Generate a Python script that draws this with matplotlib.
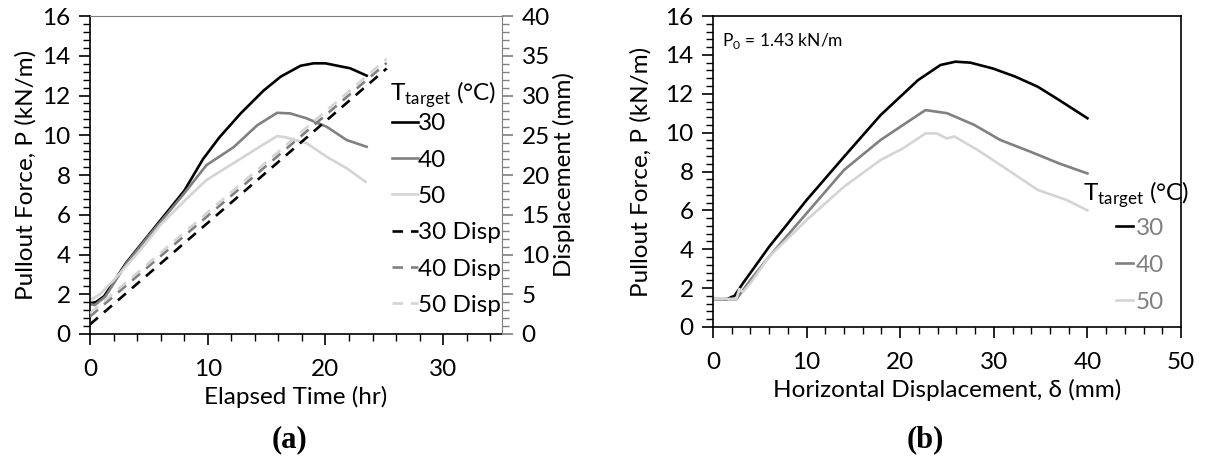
import matplotlib
matplotlib.use('Agg')
import matplotlib.pyplot as plt
from matplotlib.ticker import MultipleLocator

# --- data ---
# (a) pullout force vs elapsed time
t30 = [0, 0.5, 1.2, 3.1, 5.0, 6.5, 8.0, 9.6, 11.0, 12.8, 14.75, 16.2, 17.9, 19.0, 20.0, 21.0, 22.1, 23.5]
f30 = [1.55, 1.6, 1.9, 3.6, 5.0, 6.1, 7.2, 8.8, 9.9, 11.1, 12.25, 12.95, 13.5, 13.62, 13.62, 13.5, 13.37, 13.0]
t40 = [0, 0.4, 1.3, 3.1, 5.0, 6.5, 7.9, 9.9, 12.2, 14.2, 15.9, 17.0, 18.4, 20.1, 21.8, 23.5]
f40 = [1.5, 1.45, 1.88, 3.55, 4.95, 6.0, 7.0, 8.5, 9.4, 10.5, 11.13, 11.1, 10.85, 10.43, 9.76, 9.42]
t50 = [0, 0.85, 2.0, 4.25, 6.0, 8.2, 9.9, 12.2, 14.2, 15.9, 16.6, 18.4, 20.1, 21.8, 23.4]
f50 = [1.7, 2.0, 2.7, 4.2, 5.5, 6.8, 7.75, 8.6, 9.34, 9.96, 9.9, 9.6, 8.92, 8.34, 7.66]

# displacement (mm) vs time, straight ramps
td = [0, 25.2]
d30 = [1.2, 33.4]
d40 = [2.2, 34.1]
d50 = [2.6, 34.6]

# (b) pullout force vs horizontal displacement
x30 = [0, 1.5, 2.0, 2.3, 3.2, 6, 10, 14, 17.9, 21.9, 24.3, 25.9, 27.5, 29.9, 32.3, 34.7, 37, 40]
p30 = [1.43, 1.43, 1.55, 1.6, 2.25, 4.13, 6.53, 8.76, 10.9, 12.7, 13.48, 13.65, 13.6, 13.3, 12.88, 12.36, 11.67, 10.74]
x40 = [0, 2.5, 4, 6, 10, 14, 17.9, 21.1, 22.7, 25, 27.9, 30.7, 33.9, 37, 40]
p40 = [1.43, 1.43, 2.42, 3.62, 5.85, 8.08, 9.62, 10.65, 11.16, 11.0, 10.4, 9.62, 9.02, 8.41, 7.9]
x50 = [0, 2.5, 2.8, 3.2, 4, 6, 10, 14, 17.9, 20.3, 22.7, 23.9, 25, 25.8, 28.3, 31.5, 34.7, 37.8, 40]
p50 = [1.43, 1.45, 1.95, 1.8, 2.25, 3.62, 5.5, 7.22, 8.59, 9.19, 9.96, 9.96, 9.7, 9.8, 9.1, 8.08, 7.05, 6.53, 6.0]

temps = ['30', '40', '50']
colors = ['#000000', '#808080', '#d4d4d4']

plt.rcParams['font.family'] = ['Lato', 'DejaVu Serif']
plt.rcParams['mathtext.fontset'] = 'custom'
plt.rcParams['mathtext.rm'] = 'Lato'
FS = 17.5
LW = 1.9
TITLE = 'T$_{\\mathregular{target}}$ (°C)'


def style_ticks(ax, color='black'):
    '''outward ticks, long majors and short minors'''
    ax.tick_params(which='major', direction='out', length=8, width=1.2,
                   labelsize=FS, color=color, pad=6)
    ax.tick_params(which='minor', direction='out', length=5, width=1.0, color=color)
    ax.tick_params(axis='x', which='major', pad=10)


fig = plt.figure(figsize=(12.06, 4.67), dpi=100)

# ---------- (a) ----------
ax1 = fig.add_axes([0.0746, 0.2848, 0.3417, 0.6809])
for t, f, c, lab in zip([t30, t40, t50], [f30, f40, f50], colors, temps):
    ax1.plot(t, f, color=c, lw=LW, label=lab)
ax1.set_xlim(0, 35)
ax1.set_ylim(0, 16)
ax1.xaxis.set_major_locator(MultipleLocator(10))
ax1.xaxis.set_minor_locator(MultipleLocator(2))
ax1.yaxis.set_major_locator(MultipleLocator(2))
ax1.yaxis.set_minor_locator(MultipleLocator(0.4))
style_ticks(ax1)
ax1.spines['right'].set_visible(False)
ax1.spines['top'].set_color('#808080')
for s in ['left', 'bottom']:
    ax1.spines[s].set_linewidth(1.2)
ax1.set_xlabel('Elapsed Time (hr)', fontsize=FS, labelpad=4)
ax1.set_ylabel('Pullout Force, P (kN/m)', fontsize=FS, labelpad=4)

ax1r = ax1.twinx()
for d, c, lab in zip([d30, d40, d50], colors, temps):
    ax1r.plot(td, d, color=c, lw=LW, dashes=(4, 3), label=lab + ' Disp')
ax1r.set_ylim(0, 40)
ax1r.yaxis.set_major_locator(MultipleLocator(5))
ax1r.yaxis.set_minor_locator(MultipleLocator(1))
style_ticks(ax1r, color='#808080')
for s in ['left', 'bottom', 'top']:
    ax1r.spines[s].set_visible(False)
ax1r.spines['right'].set_color('#808080')
ax1r.set_ylabel('Displacement (mm)', fontsize=FS, labelpad=2)

# legend title drawn as its own text, entries below it
ax1r.text(0.727, 0.752, TITLE, transform=ax1r.transAxes, fontsize=FS,
          ha='left', va='center')
h1, l1 = ax1.get_legend_handles_labels()
h2, l2 = ax1r.get_legend_handles_labels()
leg = ax1r.legend(h1 + h2, l1 + l2, loc='upper left',
                  bbox_to_anchor=(0.733, 0.694), frameon=False, fontsize=FS,
                  handlelength=1.05, handletextpad=0.0,
                  labelspacing=0.63, borderpad=0, borderaxespad=0)

fig.text(0.24, 0.058, '(a)', fontsize=22, fontweight='bold',
         family='Liberation Serif', ha='center', va='center')

# ---------- (b) ----------
ax2 = fig.add_axes([0.5912, 0.2998, 0.3881, 0.6659])
for x, p, c, lab in zip([x30, x40, x50], [p30, p40, p50], colors, temps):
    ax2.plot(x, p, color=c, lw=LW, label=lab)
ax2.set_xlim(0, 50)
ax2.set_ylim(0, 16)
ax2.xaxis.set_major_locator(MultipleLocator(10))
ax2.xaxis.set_minor_locator(MultipleLocator(2))
ax2.yaxis.set_major_locator(MultipleLocator(2))
ax2.yaxis.set_minor_locator(MultipleLocator(0.4))
style_ticks(ax2)
for s in ax2.spines.values():
    s.set_linewidth(1.2)
ax2.set_xlabel('Horizontal Displacement, δ (mm)', fontsize=FS, labelpad=4)
ax2.set_ylabel('Pullout Force, P (kN/m)', fontsize=FS, labelpad=10)
ax2.text(0.02, 0.92, 'P$_{\\mathregular{0}}$ = 1.43 kN/m', transform=ax2.transAxes,
         fontsize=12.5, va='center')

ax2.text(0.79, 0.424, TITLE, transform=ax2.transAxes, fontsize=FS,
         ha='left', va='center')
leg2 = ax2.legend(loc='upper left', bbox_to_anchor=(0.862, 0.352),
                  frameon=False, fontsize=FS,
                  handlelength=0.7, handletextpad=0.1, labelspacing=0.66,
                  borderpad=0, borderaxespad=0, labelcolor='#808080')

fig.text(0.767, 0.058, '(b)', fontsize=22, fontweight='bold',
         family='Liberation Serif', ha='center', va='center')

fig.savefig('out.png', dpi=100)
